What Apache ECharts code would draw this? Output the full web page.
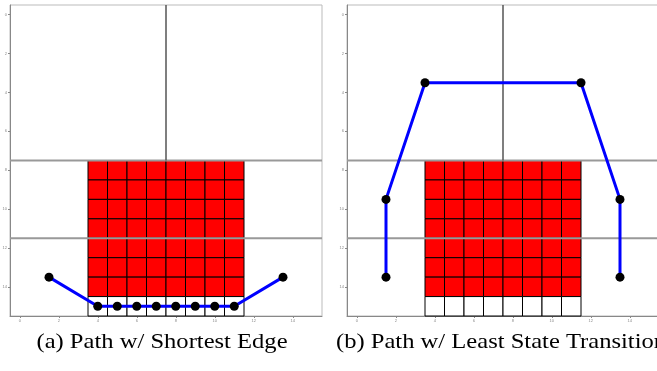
<!DOCTYPE html>
<html>
<head>
<meta charset="utf-8">
<script src="https://cdn.jsdelivr.net/npm/echarts@6/dist/echarts.min.js"></script>
<style>
  html, body { margin: 0; padding: 0; background: #fff; }
  #chart { width: 657px; height: 371px; }
</style>
</head>
<body>
<div id="chart"></div>
<script>
// Tick positions shared by both panels
const tickValues = [0, 2, 4, 6, 8, 10, 12, 14];

// Blocked region: columns 4..11, rows 8..14 are occupied (red), row 15 is free
const blockCols = [4, 5, 6, 7, 8, 9, 10, 11];
const occupiedRows = [8, 9, 10, 11, 12, 13, 14];
const freeRows = [15];

// Region dividers: [x1, y1, x2, y2]
const verticalDividers = [[7.5, -0.5, 7.5, 7.5]];
const horizontalDividers = [[-0.5, 7.5, 15.5, 7.5], [-0.5, 11.5, 15.5, 11.5]];

// (a) path taking the shortest edges
const pathShortest = [
  [1.5, 13.5], [4, 15], [5, 15], [6, 15], [7, 15],
  [8, 15], [9, 15], [10, 15], [11, 15], [13.5, 13.5]
];
// (b) path with the fewest state transitions
const pathLeastTransition = [
  [1.5, 13.5], [1.5, 9.5], [3.5, 3.5], [11.5, 3.5], [13.5, 9.5], [13.5, 13.5]
];

const captions = ['(a) Path w/ Shortest Edge', '(b) Path w/ Least State Transition'];

// Build the cell list [col, row, occupied]
const cells = [];
blockCols.forEach(c => {
  occupiedRows.forEach(r => cells.push([c, r, 1]));
  freeRows.forEach(r => cells.push([c, r, 0]));
});

function renderCell(params, api) {
  const x = api.value(0), y = api.value(1), occ = api.value(2);
  const p0 = api.coord([x - 0.5, y - 0.5]);
  const p1 = api.coord([x + 0.5, y + 0.5]);
  return {
    type: 'rect',
    shape: {
      x: Math.min(p0[0], p1[0]), y: Math.min(p0[1], p1[1]),
      width: Math.abs(p1[0] - p0[0]), height: Math.abs(p1[1] - p0[1])
    },
    style: { fill: occ ? '#ff0000' : '#ffffff', stroke: '#000', lineWidth: 1 }
  };
}

function makeDividerRenderer(color, width) {
  return function (params, api) {
    const a = api.coord([api.value(0), api.value(1)]);
    const b = api.coord([api.value(2), api.value(3)]);
    return {
      type: 'line',
      shape: { x1: a[0], y1: a[1], x2: b[0], y2: b[1] },
      style: { stroke: color, lineWidth: width }
    };
  };
}

const gridLeft = [10, 347];
const grids = gridLeft.map(l => ({
  left: l, top: 5, width: 312, height: 311,
  outerBoundsMode: 'none', containLabel: false,
  show: true, borderColor: '#bbb', borderWidth: 1, backgroundColor: '#fff'
}));

function axis(kind, idx) {
  return {
    type: 'value', gridIndex: idx, min: -0.5, max: 15.5,
    inverse: kind === 'y',
    splitLine: { show: false },
    axisLine: { show: true, onZero: false, lineStyle: { color: '#888', width: 1 } },
    axisTick: { show: true, length: 2, customValues: tickValues, lineStyle: { color: '#888' } },
    axisLabel: { show: true, customValues: tickValues, fontSize: 4, color: '#888', margin: 3 }
  };
}

const series = [];
const paths = [pathShortest, pathLeastTransition];
[0, 1].forEach(i => {
  series.push({
    type: 'custom', xAxisIndex: i, yAxisIndex: i, renderItem: renderCell,
    data: cells, encode: { x: 0, y: 1 }, z: 1, silent: true
  });
  series.push({
    type: 'custom', xAxisIndex: i, yAxisIndex: i,
    renderItem: makeDividerRenderer('#999', 2),
    data: horizontalDividers, encode: { x: [0, 2], y: [1, 3] }, z: 2, silent: true
  });
  series.push({
    type: 'custom', xAxisIndex: i, yAxisIndex: i,
    renderItem: makeDividerRenderer('#555', 1.5),
    data: verticalDividers, encode: { x: [0, 2], y: [1, 3] }, z: 2, silent: true
  });
  series.push({
    type: 'line', xAxisIndex: i, yAxisIndex: i, data: paths[i],
    symbol: 'circle', symbolSize: 9, showSymbol: true,
    itemStyle: { color: '#000', borderWidth: 0 },
    lineStyle: { color: '#0000ff', width: 3 },
    z: 5, animation: false, silent: true
  });
});

const captionFont = '21px "Liberation Serif", "Times New Roman", serif';

const chart = echarts.init(document.getElementById('chart'), null, { renderer: 'canvas' });
chart.setOption({
  animation: false,
  grid: grids,
  xAxis: [axis('x', 0), axis('x', 1)],
  yAxis: [axis('y', 0), axis('y', 1)],
  series: series,
  graphic: [
    {
      type: 'text', x: 162, y: 342, scaleX: 1.17,
      style: { text: captions[0], font: captionFont, fill: '#000', align: 'center', verticalAlign: 'middle' }
    },
    {
      type: 'text', x: 336, y: 342, scaleX: 1.17,
      style: { text: captions[1], font: captionFont, fill: '#000', align: 'left', verticalAlign: 'middle' }
    }
  ]
});
</script>
</body>
</html>
